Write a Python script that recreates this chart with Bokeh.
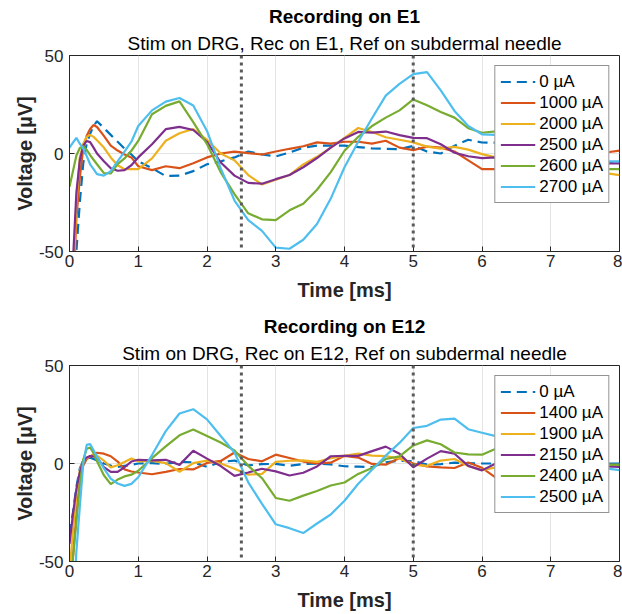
from bokeh.plotting import figure
from bokeh.models import Title, Span, FixedTicker, Range1d
from bokeh.layouts import column
from bokeh.embed import file_html
from bokeh.resources import INLINE

# ---- data (time in ms, voltage in uV) ----
time_ms = [0, 0.05, 0.1, 0.15, 0.2, 0.25, 0.3, 0.35, 0.4, 0.5, 0.6, 0.7, 0.8, 0.9, 1.0,
           1.2, 1.4, 1.6, 1.8, 2.0, 2.2, 2.4, 2.6, 2.8, 3.0, 3.2, 3.4, 3.6, 3.8, 4.0,
           4.2, 4.4, 4.6, 4.8, 5.0, 5.2, 5.4, 5.6, 5.8, 6.0, 6.2, 6.4, 6.6, 6.8, 7.0,
           7.2, 7.4, 7.6, 7.8, 8.0]

e1_labels = ["0 µA", "1000 µA", "2000 µA", "2500 µA", "2600 µA", "2700 µA"]
e1_0 = [-80, -80, -50, -25, -5, 5, 10, 14, 16.5, 13, 9.5, 6, 2.5, -0.5, -4,
        -7.5, -11.5, -11.3, -9, -5.5, -4, -2, 1, -0.5, -1.5, 0.5, 3, 4, 4, 4,
        3.3, 2.6, 2.4, 2.2, 3.9, 1, 0, 4, 7, 5.6, 5.5, 5, 4, 2, 0, -2, -3, -4, -4.5, -5]
e1_1000 = [-80, -75, -33, -12.5, 3, 9, 12.5, 14.5, 13.5, 9, 4, 1.5, -0.5, -2, -6.5,
           -8.5, -6.5, -7.5, -5, -2, 0, 1, 0.2, -0.5, 1, 2.4, 3.7, 5.7, 5, 6,
           6, 5, 6.5, 3, 1.7, 3.5, 3, 1, -3.5, -8, -8, -8, -7, -6, -5, -5, -4, -2, 0.5, 1.5]
e1_2000 = [-80, -70, -25, -2, 5, 8.5, 9.5, 8.5, 6.8, 3, -2, -6, -8, -8, -8,
           -2.5, 6.5, 10.3, 12.5, 7, 0, -3.5, -11, -15.8, -13.4, -11, -5.6, -1.7, 3, 8,
           13, 11, 8.3, 7, 5.7, 3.5, 2.5, 3.4, 2, -0.3, -2, -3, -4, -4, -4, -5, -6, -8, -10, -11]
e1_2500 = [-80, -55, -20, -3.5, 4, 6.4, 5.8, 3, 0, -4, -7.5, -8.8, -8.5, -6, -2,
           4.7, 12.4, 13.6, 12, 6, -4.6, -11.3, -15, -15.4, -13.1, -11, -7, -2.3, 3, 7.7,
           11, 10.7, 11.2, 9.4, 8, 7.8, 4.7, 0.4, -1.4, -2.4, -2, -2.5, -3, -3.5, -4, -4, -4.5, -4.5, -5, -5]
e1_2600 = [-17, -9, -1, 2.8, 3.7, 1.8, -0.8, -3.2, -5.5, -10, -10.2, -5.4, -2.5, 1.4, 6.4,
           20, 24.3, 26.6, 16, 4.8, -9.6, -20.7, -30.5, -33.6, -34, -29, -25.6, -18.5, -9.5, 1.4,
           8.5, 14, 18.3, 22, 27.6, 24.6, 21.2, 18.3, 12.9, 10.6, 11.3, 9, 6, 3, 0, -3, -5, -7, -8, -8]
e1_2700 = [3, 5.5, 8, 5, 2.5, -1.3, -5.5, -8, -10.5, -11.3, -9, -4, 1, 6, 14,
           22, 26.5, 28.3, 24.5, 11.5, -7.6, -24, -34, -39.5, -48, -48.6, -44, -36, -23, -7,
           6, 18, 29.5, 35.5, 40.5, 41.5, 32.2, 21.7, 14, 9.8, 9.5, 8, 5, 2, 0, -2, -3, -4, -4, -4]

e12_labels = ["0 µA", "1400 µA", "1900 µA", "2150 µA", "2400 µA", "2500 µA"]
e12_0 = [-36, -25, -12, -2.5, 1.5, 2.6, 3, 2.3, 1.5, 0, -1, -1.7, -1.2, -0.7, 0,
         0.2, -0.2, 0.9, 0.6, -1.7, 0.8, 1.5, -1, -0.3, -0.2, -1.2, -0.3, -0.1, -0.5, -1.4,
         -1.6, -1.8, 0.6, 1.4, 1.2, -0.5, -0.3, 0.4, 0.2, 0, 0, 0.5, 0.5, 0, 0, 0, 0, 0, 0, 0]
e12_1400 = [-80, -48, -26, -8.5, -1, 2.3, 3.6, 4.6, 5.5, 5, 3.7, 1, -3, -4.1, -4.6,
            -5.5, -4.3, -2.8, -3, 0.3, 1.3, 5.6, 2.3, 1.1, 4.5, 2.8, 1, 0, 0.4, 3.9,
            3, -0.2, -0.6, 2.8, 0, -1.5, -2, -2.3, 0.5, -2.2, -7.2, -6, -4, -2, -1, 0, 0, -0.5, -1, -1]
e12_1900 = [-55, -35, -16, -3.5, 1.6, 2.7, 3.7, 4.5, 4, 1.5, -2, -0.9, 0.8, 2.6, 1.1,
            1.3, 0.2, -4.2, 0.2, 1.5, 0, -2.7, -5.7, -5.3, 0.8, 1.4, 1.6, 0.8, 2.7, 3.9,
            5, 4, 3.8, 2.5, -0.6, -1.2, 1.5, 2.3, -1.3, -3.4, -2, 0, 1, 0.5, 0, 0, -0.5, -0.5, -0.7, -0.7]
e12_2150 = [-41, -26, -13, -4.5, 1.5, 3, 3.8, 3.6, 3.1, -1.8, -4.3, -4.3, -1.9, 1, 1.9,
            1.6, 1.9, -0.7, 6.5, 2.5, -1.3, -6.3, -4.6, -2.7, -4, -6.1, -4.7, -1.5, 3.7, 3.9,
            3.9, 6.3, 8.6, 5, -1.9, 2.5, 6.3, 5, -1.2, -3.5, 0, 1, 0, -1, 0, 1, 0, -1, -1.5, -1.7]
e12_2400 = [-80, -48, -30, -11, 2, 7.5, 8.2, 5.3, 1.2, -6, -10.5, -8.2, -6.6, -5.7, -3.7,
            2.7, 8.7, 14.4, 17.3, 14, 10.7, 6.6, -1.2, -7.5, -17.6, -19, -16.4, -14, -11.2, -9.7,
            -5.3, -2.3, 2.3, 3.6, 9.2, 11.8, 9.8, 5.6, 4.7, 4.5, 7.5, 6, 4, 3, 2, 1, 0, 0, -0.5, -0.7]
e12_2500 = [-90, -75, -45, -22, 0, 9.5, 9.9, 6.8, 3.5, -2.5, -7.7, -10.2, -11.4, -10.4, -7,
            4.3, 16.5, 25.5, 27.7, 22.5, 14, 5.6, -9.6, -20.6, -31, -33, -35.5, -30.6, -26, -19,
            -10.3, -3.2, 4, 10.5, 18.1, 19.2, 22.4, 22.9, 17.5, 15.7, 14, 13, 11, 8, 5, 3, 1, -1, -2.5, -3.4]

x_ticks = [0, 1, 2, 3, 4, 5, 6, 7, 8]
y_ticks = [-50, 0, 50]
y_tick_labels = {-50: "-50", 0: "0", 50: "50"}
marker_times = [2.5, 5.0]

# ---- style ----
FONT = "Liberation Sans"
COLORS = ["#0072BD", "#D95319", "#EDB120", "#7E2F8E", "#77AC30", "#4DBEEE"]
DASHES = ["10 6", "solid", "solid", "solid", "solid", "solid"]
TXT = "#262626"


def make_panel(title, subtitle, labels, series, top, bottom, title_gap):
    p = figure(width=622, height=top + 196 + bottom,
               x_range=Range1d(0, 8), y_range=Range1d(-50, 50),
               output_backend="svg", toolbar_location=None, title=None,
               min_border_left=69, min_border_right=3,
               min_border_top=top, min_border_bottom=bottom)
    p.add_layout(Title(text=subtitle, align="center", text_font=FONT,
                       text_font_size="19px", text_font_style="normal",
                       text_color="black", standoff=3), "above")
    p.add_layout(Title(text=title, align="center", text_font=FONT,
                       text_font_size="19px", text_font_style="bold",
                       text_color="black", standoff=title_gap), "above")

    for lab, vals, col, dash in zip(labels, series, COLORS, DASHES):
        p.line(time_ms, vals, line_color=col, line_width=2.2, line_dash=dash,
               legend_label=lab)

    for m in marker_times:
        p.add_layout(Span(location=m, dimension="height", line_color="#5a5a5a",
                          line_width=3, line_dash="3 4"))

    p.xaxis.ticker = FixedTicker(ticks=x_ticks)
    p.yaxis.ticker = FixedTicker(ticks=y_ticks)
    p.yaxis.major_label_overrides = y_tick_labels
    p.xaxis.axis_label = "Time [ms]"
    p.yaxis.axis_label = "Voltage [µV]"
    for ax in (p.xaxis, p.yaxis):
        ax.axis_label_text_font = FONT
        ax.axis_label_text_font_size = "20px"
        ax.axis_label_text_font_style = "bold"
        ax.axis_label_text_color = TXT
        ax.major_label_text_font = FONT
        ax.major_label_text_font_size = "17px"
        ax.major_label_text_color = TXT
        ax.major_tick_in = 5
        ax.major_tick_out = 0
        ax.minor_tick_line_color = None
        ax.axis_line_color = TXT
        ax.major_tick_line_color = TXT
    p.xaxis.major_label_standoff = 3
    p.xaxis.axis_label_standoff = 9
    p.yaxis.major_label_standoff = 6
    p.yaxis.axis_label_standoff = 0

    p.xgrid.grid_line_color = "#e4e4e4"
    p.ygrid.grid_line_color = "#e4e4e4"
    p.outline_line_color = TXT
    p.outline_line_width = 1
    p.background_fill_color = "white"
    p.border_fill_color = "white"

    lg = p.legend[0]
    lg.location = "top_right"
    lg.margin = 10
    lg.padding = 5
    lg.spacing = 0
    lg.label_height = 21
    lg.glyph_height = 21
    lg.glyph_width = 35
    lg.label_standoff = 4
    lg.label_text_font = FONT
    lg.label_text_font_size = "17px"
    lg.label_text_color = "black"
    lg.border_line_color = TXT
    lg.border_line_width = 1
    lg.background_fill_alpha = 1.0
    return p


p1 = make_panel("Recording on E1",
                "Stim on DRG, Rec on E1, Ref on subdermal needle",
                e1_labels, [e1_0, e1_1000, e1_2000, e1_2500, e1_2600, e1_2700], 55, 55, 5)
p2 = make_panel("Recording on E12",
                "Stim on DRG, Rec on E12, Ref on subdermal needle",
                e12_labels, [e12_0, e12_1400, e12_1900, e12_2150, e12_2400, e12_2500], 59, 53, 6)

layout = column(p1, p2, spacing=0)
open("out.html", "w").write(file_html(layout, INLINE))
